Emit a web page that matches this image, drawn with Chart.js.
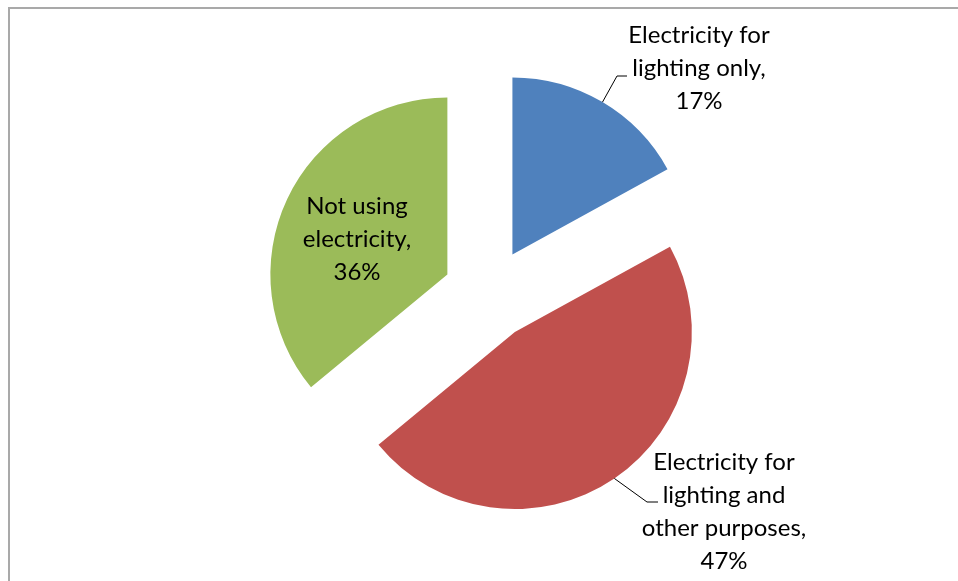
<!DOCTYPE html>
<html>
<head>
<meta charset="utf-8">
<script src="https://cdn.jsdelivr.net/npm/chart.js@4.4.1/dist/chart.umd.min.js"></script>
<style>
html, body { margin: 0; padding: 0; background: #fff; }
#wrap { position: relative; width: 958px; height: 581px; overflow: hidden; }
#frame { position: absolute; left: 8px; top: 7px; width: 1000px; height: 700px; border-left: 2px solid #a9a9a9; border-top: 2px solid #a9a9a9; }
canvas { position: absolute; left: 0; top: 0; }
</style>
</head>
<body>
<div id="wrap">
  <div id="frame"></div>
  <canvas id="chart" width="958" height="581"></canvas>
</div>
<script>
// electricity use shares
const categories = ['Electricity for lighting only', 'Electricity for lighting and other purposes', 'Not using electricity'];
const shares = [17, 47, 36];
const colors = ['#4F81BD', '#C0504D', '#9BBB59'];
const nameLines = [['Electricity for', 'lighting only,'], ['Electricity for', 'lighting and', 'other purposes,'], ['Not using', 'electricity,']];

// label placement (text centre + elbow points of the leader line)
const labelLayout = [
    { x: 699, y: 68, leader: [[617, 76], [627, 76]] },
    { x: 724, y: 512, leader: [[647, 502], [658, 502]] },
    { x: 357, y: 239, leader: null },
];
const EXPLODE = 46;
const LINE_H = 33;
const FONT = '24px Lato';

const explode = {
    id: 'explode',
    beforeDatasetDraw(chart, args) {
        const ctx = chart.ctx;
        args.meta.data.forEach(arc => {
            const mid = (arc.startAngle + arc.endAngle) / 2;
            ctx.save();
            ctx.translate(Math.cos(mid) * EXPLODE, Math.sin(mid) * EXPLODE);
            arc.draw(ctx);
            ctx.restore();
        });
        return false;
    }
};

const sliceLabels = {
    id: 'sliceLabels',
    afterDatasetsDraw(chart) {
        const ctx = chart.ctx;
        const arcs = chart.getDatasetMeta(0).data;
        ctx.save();
        ctx.font = FONT;
        ctx.textAlign = 'center';
        ctx.textBaseline = 'middle';
        arcs.forEach((arc, i) => {
            const mid = (arc.startAngle + arc.endAngle) / 2;
            const cx = arc.x + Math.cos(mid) * EXPLODE, cy = arc.y + Math.sin(mid) * EXPLODE;
            const L = labelLayout[i];
            if (L.leader) {
                ctx.strokeStyle = '#000';
                ctx.lineWidth = 1;
                ctx.beginPath();
                ctx.moveTo(cx + Math.cos(mid) * arc.outerRadius, cy + Math.sin(mid) * arc.outerRadius);
                L.leader.forEach(p => ctx.lineTo(p[0], p[1]));
                ctx.stroke();
            }
            const lines = [...nameLines[i], shares[i] + '%'];
            ctx.fillStyle = '#000';
            lines.forEach((t, k) => ctx.fillText(t, L.x, L.y + (k - (lines.length - 1) / 2) * LINE_H));
        });
        ctx.restore();
    }
};

new Chart(document.getElementById('chart'), {
    type: 'pie',
    data: { labels: categories, datasets: [{ data: shares, backgroundColor: colors, borderWidth: 0 }] },
    options: {
        responsive: false,
        animation: false,
        radius: 177,
        layout: { padding: { left: 20, right: 0, top: 7, bottom: 0 } },
        plugins: { legend: { display: false }, tooltip: { enabled: false } }
    },
    plugins: [explode, sliceLabels]
});
</script>
</body>
</html>
